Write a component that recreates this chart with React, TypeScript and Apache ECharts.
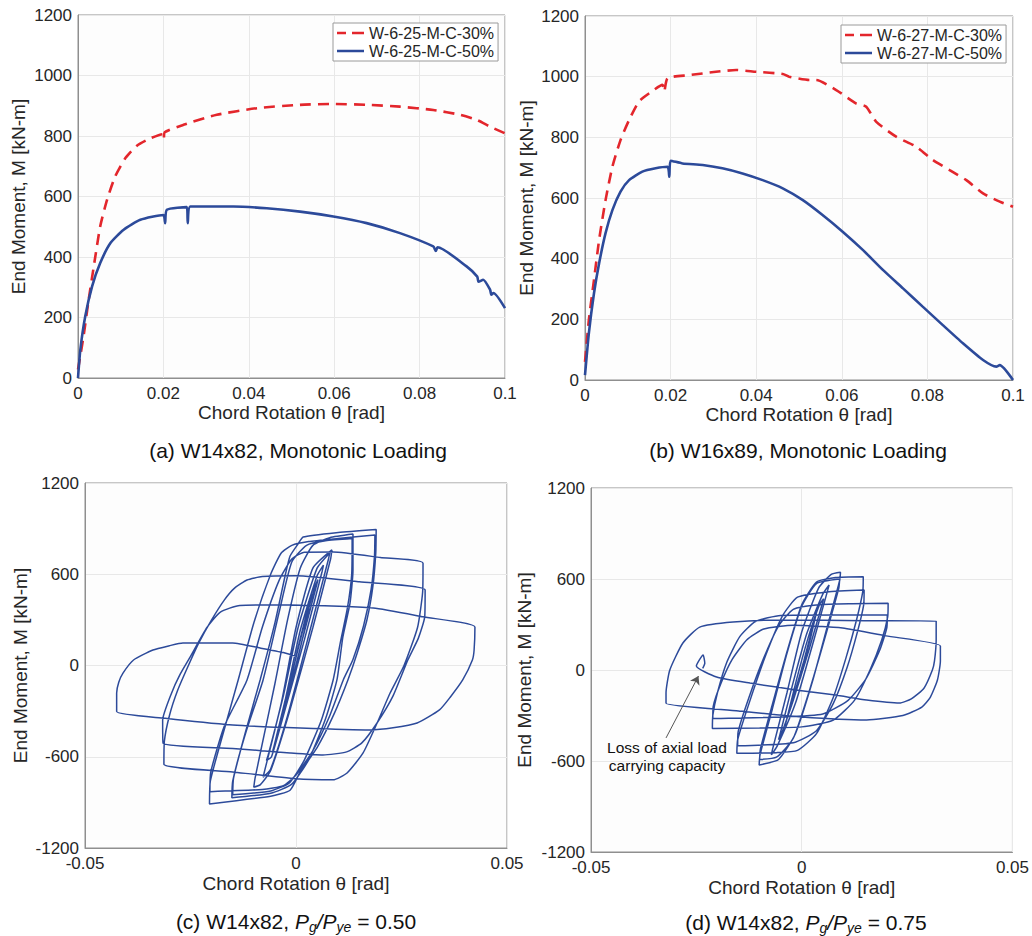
import React, { useEffect, useRef } from "react";
import * as echarts from "echarts";

const FONT = "'Liberation Sans', Arial, Helvetica, sans-serif";
const RED = "#e3262c";
const BLUE = "#2c4a9a";
const INK = "#262626";
const AXIS = "#8f8f8f";
const GRIDLINE = "#e8e8e8";

// ---------- (a) W14x82 monotonic ----------
const a30: [number, number][] = [
  [0, 28], [0.0013, 138], [0.0025, 259], [0.0037, 369], [0.0052, 501], [0.0068, 589],
  [0.0087, 666], [0.0111, 727], [0.0138, 768], [0.0169, 792], [0.0198, 806], [0.0201, 790],
  [0.0203, 812], [0.0247, 837], [0.0325, 870], [0.0419, 892], [0.052, 903], [0.0598, 906],
  [0.0676, 903], [0.0754, 897], [0.0832, 886], [0.0895, 870], [0.0934, 853], [0.0965, 831],
  [0.1, 809],
];
const a50: [number, number][] = [
  [0, 0], [0.00055, 94], [0.0017, 204], [0.0033, 303], [0.0052, 380], [0.0076, 446],
  [0.0107, 490], [0.0146, 523], [0.02, 539], [0.0204, 512], [0.0208, 556], [0.0255, 565],
  [0.0257, 512], [0.0263, 567], [0.0364, 567], [0.0442, 561], [0.052, 550], [0.0598, 534],
  [0.0676, 512], [0.0754, 479], [0.0832, 435], [0.0838, 420], [0.0842, 432], [0.091, 369],
  [0.0935, 335], [0.0938, 318], [0.0949, 325], [0.0965, 292], [0.0968, 275], [0.0973, 281],
  [0.1, 231],
];

// ---------- (b) W16x89 monotonic ----------
const b30: [number, number][] = [
  [0, 60], [0.0009, 198], [0.0021, 330], [0.0033, 462], [0.0048, 593], [0.0064, 703],
  [0.0083, 791], [0.0103, 857], [0.0126, 918], [0.015, 945], [0.0181, 973], [0.0185, 951],
  [0.0193, 995], [0.0243, 1005], [0.0306, 1016], [0.0353, 1022], [0.04, 1016], [0.0462, 1009],
  [0.0477, 1000], [0.0524, 989], [0.054, 989], [0.0587, 956], [0.0633, 912], [0.0657, 901],
  [0.068, 852], [0.0727, 802], [0.0774, 769], [0.0813, 725], [0.0852, 692], [0.0891, 659],
  [0.093, 615], [0.0969, 588], [0.1, 571],
];
const b50: [number, number][] = [
  [0, 16], [0.0009, 154], [0.0021, 286], [0.0033, 385], [0.0048, 484], [0.0064, 560],
  [0.0083, 621], [0.0103, 659], [0.0134, 687], [0.0165, 698], [0.0193, 703], [0.0197, 670],
  [0.02, 723], [0.0228, 714], [0.0275, 709], [0.0321, 698], [0.0368, 681], [0.0415, 659],
  [0.0462, 632], [0.0509, 593], [0.0555, 544], [0.0602, 489], [0.0649, 429], [0.0696, 363],
  [0.0743, 302], [0.0789, 242], [0.0836, 181], [0.0883, 121], [0.093, 66], [0.0961, 44],
  [0.0969, 49], [0.1, 0],
];

// ---------- (c) W14x82, Pg/Pye = 0.50 cyclic ----------
const cSmall: [number, number][] = [
  [0, 0], [0.002, 230], [0.0037, 470],
  [0.0034, 440], [0.0005, 120], [-0.002, -200], [-0.0036, -390], [-0.0042, -445],
  [-0.0039, -415], [-0.0015, -120], [0.0015, 220], [0.0045, 520], [0.0052, 565],
  [0.0049, 530], [0.0015, 170], [-0.0025, -270], [-0.0048, -510], [-0.0055, -560],
  [-0.0052, -530], [-0.0025, -220], [0.001, 230], [0.005, 590], [0.0065, 660],
  [0.0062, 620], [0.002, 170], [-0.003, -330], [-0.0058, -600], [-0.007, -625],
  [-0.0066, -590], [-0.003, -200], [0.0005, 250], [0.005, 640], [0.008, 740],
  [0.0077, 700], [0.0035, 250], [-0.002, -330], [-0.006, -680], [-0.0078, -735],
  [-0.0075, -700], [-0.0035, -250], [0.0, 250], [0.004, 640], [0.0085, 760],
  [0.0082, 700], [0.004, 250], [-0.0015, -300], [-0.006, -690], [-0.0085, -785], [-0.01, -800],
];
const c015: [number, number][] = [
  [-0.0097, -740], [-0.0075, -450], [-0.005, -120], [-0.002, 300], [0.001, 640], [0.004, 790],
  [0.008, 840], [0.0135, 864],
  [0.0135, 627], [0.0128, 410], [0.0111, 187], [0.0097, -95], [0.007, -350], [0.003, -620],
  [-0.001, -780], [-0.006, -840], [-0.0152, -870],
  [-0.015, -760], [-0.012, -450], [-0.0078, -95], [-0.004, 350], [-0.001, 680], [0.0025, 790],
  [0.007, 820], [0.0133, 835],
  [0.0132, 600], [0.0122, 380], [0.0105, 150], [0.0088, -95], [0.006, -360], [0.002, -620],
  [-0.0015, -770], [-0.006, -825], [-0.015, -850],
];
const c02: [number, number][] = [
  [-0.0148, -740], [-0.012, -440], [-0.0085, -95], [-0.005, 280], [-0.0025, 600], [-0.0014, 720],
  [0.0005, 800], [0.0017, 845], [0.01, 875], [0.019, 895],
  [0.0189, 739], [0.0182, 516], [0.0168, 299], [0.0145, 82], [0.0123, -95], [0.009, -320],
  [0.005, -540], [0.001, -700], [-0.0014, -820], [-0.006, -860], [-0.0205, -910],
  [-0.0203, -760], [-0.0175, -470], [-0.0137, -95], [-0.01, 280], [-0.006, 600], [-0.0035, 740],
  [-0.001, 790], [0.003, 815], [0.01, 835], [0.0187, 858],
  [0.0186, 720], [0.0178, 500], [0.016, 260], [0.0135, 40], [0.0112, -95], [0.008, -330],
  [0.004, -560], [0.0, -720], [-0.003, -790], [-0.008, -815], [-0.0204, -830],
];
const c03: [number, number][] = [
  [-0.0202, -700], [-0.017, -400], [-0.0116, -95], [-0.008, 250], [-0.004, 560], [-0.001, 700],
  [0.002, 745], [0.0088, 746], [0.02, 710], [0.0301, 673],
  [0.03, 480], [0.0288, 250], [0.0256, 0], [0.0223, -181], [0.0192, -380], [0.0159, -575],
  [0.0121, -707], [0.0088, -752], [0.0, -745], [-0.015, -700], [-0.0313, -650],
  [-0.0312, -500], [-0.03, -330], [-0.028, -160], [-0.0255, 0], [-0.023, 150], [-0.02, 300],
  [-0.017, 430], [-0.0145, 510], [-0.0116, 562], [-0.008, 585], [0.0, 590], [0.015, 550],
  [0.0306, 497],
  [0.0305, 320], [0.029, 180], [0.0265, 36], [0.023, -200], [0.0192, -378], [0.0156, -509],
  [0.012, -568], [0.0064, -588], [-0.0014, -575], [-0.015, -545], [-0.0315, -511],
];
const c04: [number, number][] = [
  [-0.0316, -360], [-0.0295, -182], [-0.0275, -60], [-0.025, 60], [-0.0211, 250], [-0.018, 350],
  [-0.0133, 395], [-0.0014, 398], [0.0183, 378], [0.0301, 320], [0.0424, 253],
  [0.0422, 100], [0.0418, 36], [0.0395, -95], [0.0365, -210], [0.034, -292], [0.0287, -378],
  [0.023, -410], [0.0175, -424], [0.001, -411], [-0.015, -391], [-0.031, -347], [-0.0425, -303],
  [-0.0425, -181], [-0.042, -110], [-0.041, -50], [-0.0385, 36], [-0.0339, 102], [-0.03, 130],
  [-0.0268, 148], [-0.015, 148], [-0.0085, 115], [-0.003, 85], [0.0, 60],
];

// ---------- (d) W14x82, Pg/Pye = 0.75 cyclic ----------
const dSmall: [number, number][] = [
  [0, 0], [0.002, 200], [0.0035, 380],
  [0.0032, 350], [0.0005, 60], [-0.0022, -200], [-0.0036, -330], [-0.004, -370],
  [-0.0037, -340], [-0.0012, -60], [0.0015, 210], [0.0042, 430], [0.0052, 470],
  [0.0049, 440], [0.0018, 140], [-0.002, -200], [-0.0048, -420], [-0.0055, -460],
  [-0.0052, -430], [-0.0022, -100], [0.0012, 240], [0.005, 500], [0.0065, 560],
  [0.0062, 530], [0.0028, 190], [-0.0015, -220], [-0.0058, -500], [-0.0072, -560],
  [-0.0069, -520], [-0.0035, -150], [0.0, 250], [0.004, 540], [0.007, 630], [0.0092, 644],
  [0.009, 590], [0.0062, 300], [0.0025, -80], [-0.0015, -420], [-0.0055, -590], [-0.0101, -626],
  [-0.0099, -560], [-0.007, -260], [-0.0035, 110], [0.0, 420], [0.0035, 570], [0.009, 600],
  [0.0088, 540], [0.006, 260], [0.002, -120], [-0.002, -450], [-0.006, -575], [-0.01, -590],
];
const d015: [number, number][] = [
  [-0.0098, -520], [-0.007, -230], [-0.0035, 120], [0.0, 430], [0.0035, 580], [0.008, 610],
  [0.0146, 615],
  [0.0145, 520], [0.013, 330], [0.0105, 80], [0.0075, -180], [0.0035, -420], [-0.001, -530],
  [-0.006, -545], [-0.0154, -549],
  [-0.0152, -460], [-0.0125, -220], [-0.0085, 100], [-0.0045, 360], [-0.001, 480], [0.006, 515],
  [0.0148, 527],
  [0.0147, 430], [0.0132, 250], [0.0108, 20], [0.0075, -220], [0.0035, -400], [-0.002, -480],
  [-0.0152, -500],
];
const d02: [number, number][] = [
  [-0.0151, -410], [-0.0125, -180], [-0.009, 80], [-0.0055, 290], [-0.002, 400], [0.004, 430],
  [0.012, 437], [0.0205, 440],
  [0.0204, 350], [0.019, 200], [0.0162, 0], [0.0125, -200], [0.0075, -330], [0.0, -375],
  [-0.01, -382], [-0.0212, -385],
  [-0.0211, -300], [-0.02, -150], [-0.0178, 50], [-0.0147, 220], [-0.011, 320], [-0.005, 360],
  [0.008, 363], [0.0203, 363],
  [0.0202, 280], [0.0185, 130], [0.0152, -60], [0.011, -200], [0.005, -290], [-0.005, -310],
  [-0.0211, -320],
];
const d03: [number, number][] = [
  [-0.021, -240], [-0.0192, -90], [-0.0165, 70], [-0.013, 200], [-0.009, 270], [-0.002, 295],
  [0.0097, 277], [0.02, 225], [0.0329, 158],
  [0.0329, 60], [0.0322, -66], [0.0305, -180], [0.0285, -244], [0.024, -300], [0.0154, -330],
  [0.0, -310], [-0.015, -270], [-0.0322, -220],
  [-0.0322, -152], [-0.0313, 0], [-0.0282, 178], [-0.0242, 283], [-0.0163, 316], [-0.0045, 330],
  [0.015, 325], [0.0319, 323],
];
const dLoss: [number, number][] = [
  [0.0319, 200], [0.0315, 60], [0.031, 0], [0.029, -120], [0.026, -190], [0.0232, -218],
  [0.0154, -198], [0.008, -165], [-0.0005, -135], [-0.0123, -86], [-0.0202, -46], [-0.025, 26],
  [-0.0234, 99], [-0.023, 44], [-0.0235, 11],
];

const arrowFrom: [number, number] = [-0.0322, -448];
const arrowTo: [number, number] = [-0.0245, -40];

const monoYTicks = { min: 0, max: 1200, interval: 200 };
const monoXTicks = { min: 0, max: 0.1, interval: 0.02 };
const cycYTicks = { min: -1200, max: 1200, interval: 600 };
const cycXTicks = { min: -0.05, max: 0.05, interval: 0.05 };

const legendA = ["W-6-25-M-C-30%", "W-6-25-M-C-50%"];
const legendB = ["W-6-27-M-C-30%", "W-6-27-M-C-50%"];

// legend glyphs: a thin bar (solid or dashed) centred in a 27x14 box
const DASH_ICON = "path://M0,0L0,0ZM0,5.7h9v2.6h-9zM15,5.7h12v2.6h-12zM27,14L27,14Z";
const SOLID_ICON = "path://M0,0L0,0ZM0,5.7h27v2.6h-27zM27,14L27,14Z";

const plain = (v: number) => String(Math.round(v * 10000) / 10000);

function xAxis(gridIndex: number, t: any, nameGap: number) {
  return {
    type: "value",
    gridIndex,
    ...t,
    name: "Chord Rotation θ [rad]",
    nameLocation: "middle",
    nameGap,
    nameTextStyle: { fontSize: 19, color: INK, fontFamily: FONT },
    axisLine: { show: true, onZero: false, lineStyle: { color: AXIS, width: 1 } },
    axisTick: { show: false },
    axisLabel: { fontSize: 17, color: INK, fontFamily: FONT, margin: 7, formatter: plain },
    splitLine: { show: true, lineStyle: { color: GRIDLINE, width: 1 } },
  };
}
function yAxis(gridIndex: number, t: any, nameGap: number) {
  return {
    type: "value",
    gridIndex,
    ...t,
    name: "End Moment, M [kN-m]",
    nameLocation: "middle",
    nameGap,
    nameTextStyle: { fontSize: 19, color: INK, fontFamily: FONT },
    axisLine: { show: true, onZero: false, lineStyle: { color: AXIS, width: 1 } },
    axisTick: { show: false },
    axisLabel: { fontSize: 17, color: INK, fontFamily: FONT, margin: 6, formatter: plain },
    splitLine: { show: true, lineStyle: { color: GRIDLINE, width: 1 } },
  };
}
const gridStyle = { show: true, borderColor: AXIS, borderWidth: 1, backgroundColor: "#fdfdfd" };

function legend(names: string[], left: number, top: number) {
  return {
    data: [
      { name: names[0], icon: DASH_ICON },
      { name: names[1], icon: SOLID_ICON },
    ],
    left,
    top,
    orient: "vertical",
    backgroundColor: "#ffffff",
    borderColor: "#9a9a9a",
    borderWidth: 1,
    padding: [2, 4, 2, 4],
    itemGap: 2,
    itemWidth: 27,
    itemHeight: 14,
    textStyle: { fontSize: 16, color: INK, fontFamily: FONT },
  };
}

function caption(x: number, y: number, text: string) {
  return {
    type: "text",
    x,
    y,
    style: {
      text,
      fill: "#111",
      fontSize: 21,
      fontFamily: FONT,
      textAlign: "center",
      textVerticalAlign: "middle",
      verticalAlign: "middle",
      rich: {
        n: { fontSize: 21, fontFamily: FONT, fill: "#111", lineHeight: 26, verticalAlign: "middle" },
        i: { fontSize: 21, fontFamily: FONT, fontStyle: "italic", fill: "#111", lineHeight: 26, verticalAlign: "middle" },
        s: { fontSize: 14, fontFamily: FONT, fontStyle: "italic", fill: "#111", lineHeight: 14, verticalAlign: "bottom" },
      },
    },
  };
}

export default function App() {
  const ref = useRef<HTMLDivElement>(null);
  useEffect(() => {
    const chart = echarts.init(ref.current!, null, { renderer: "svg" });
    const option: any = {
      animation: false,
      backgroundColor: "#ffffff",
      grid: [
        { left: 78, top: 15, width: 427, height: 363, ...gridStyle },
        { left: 585, top: 16, width: 428, height: 364, ...gridStyle },
        { left: 85, top: 483, width: 422, height: 365, ...gridStyle },
        { left: 591, top: 488, width: 422, height: 364, ...gridStyle },
      ],
      xAxis: [
        xAxis(0, monoXTicks, 23),
        xAxis(1, monoXTicks, 23),
        xAxis(2, cycXTicks, 26),
        xAxis(3, cycXTicks, 26),
      ],
      yAxis: [
        yAxis(0, monoYTicks, 50),
        yAxis(1, monoYTicks, 49),
        yAxis(2, cycYTicks, 55),
        yAxis(3, cycYTicks, 57),
      ],
      legend: [legend(legendA, 333, 23), legend(legendB, 841, 25)],
      series: [
        {
          name: legendA[0], type: "line", xAxisIndex: 0, yAxisIndex: 0, data: a30, smooth: 0.2,
          symbol: "none", lineStyle: { color: RED, width: 2.6, type: [11, 7] }, itemStyle: { color: RED }, z: 3,
        },
        {
          name: legendA[1], type: "line", xAxisIndex: 0, yAxisIndex: 0, data: a50, smooth: 0.2,
          symbol: "none", lineStyle: { color: BLUE, width: 2.6 }, itemStyle: { color: BLUE }, z: 3,
        },
        {
          name: legendB[0], type: "line", xAxisIndex: 1, yAxisIndex: 1, data: b30, smooth: 0.2,
          symbol: "none", lineStyle: { color: RED, width: 2.6, type: [11, 7] }, itemStyle: { color: RED }, z: 3,
        },
        {
          name: legendB[1], type: "line", xAxisIndex: 1, yAxisIndex: 1, data: b50, smooth: 0.2,
          symbol: "none", lineStyle: { color: BLUE, width: 2.6 }, itemStyle: { color: BLUE }, z: 3,
        },
        {
          name: "c", type: "line", xAxisIndex: 2, yAxisIndex: 2,
          data: [...cSmall, ...c015, ...c02, ...c03, ...c04],
          symbol: "none", smooth: 0.18, lineStyle: { color: BLUE, width: 1.5 }, z: 3,
        },
        {
          name: "d", type: "line", xAxisIndex: 3, yAxisIndex: 3,
          data: [...dSmall, ...d015, ...d02, ...d03, ...dLoss],
          symbol: "none", smooth: 0.18, lineStyle: { color: BLUE, width: 1.5 }, z: 3,
          markLine: {
            silent: true,
            symbol: ["none", "arrow"],
            symbolSize: 8,
            label: { show: false },
            lineStyle: { color: "#555", width: 1, type: "solid" },
            data: [[{ coord: arrowFrom }, { coord: arrowTo }]],
          },
        },
      ],
      graphic: [
        caption(298, 450, "(a) W14x82, Monotonic Loading"),
        caption(798, 450, "(b) W16x89, Monotonic Loading"),
        caption(296, 921, "{n|(c) W14x82, }{i|P}{s|g}{i|/P}{s|ye}{n| = 0.50}"),
        caption(806, 922, "{n|(d) W14x82, }{i|P}{s|g}{i|/P}{s|ye}{n| = 0.75}"),
        {
          type: "text",
          x: 667,
          y: 756,
          style: {
            text: "Loss of axial load\ncarrying capacity",
            fill: "#111",
            fontSize: 15.5,
            fontFamily: FONT,
            lineHeight: 18,
            textAlign: "center",
            textVerticalAlign: "middle",
            verticalAlign: "middle",
          },
        },
      ],
    };
    chart.setOption(option);
    return () => chart.dispose();
  }, []);
  return (
    <div
      ref={ref}
      style={{ position: "absolute", left: 0, top: 0, width: 1032, height: 936, background: "#fff" }}
    />
  );
}
